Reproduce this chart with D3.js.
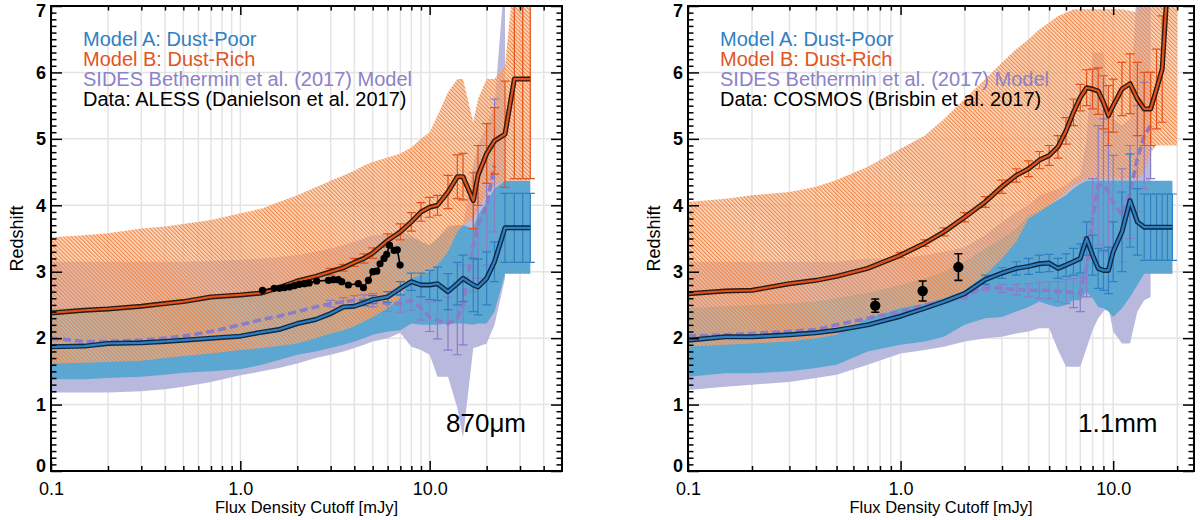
<!DOCTYPE html>
<html lang="en">
<head>
<meta charset="UTF-8">
<title>Median redshift vs flux density cutoff</title>
<script src="https://d3js.org/d3.v7.min.js"></script>
<style>
    body { margin: 0; background: white; }
    svg { display: block; font-family: 'Liberation Sans', Arial, Helvetica, sans-serif; }
</style>
</head>
<body>
<svg id="chart" width="1201" height="520"></svg>
<script>
// ---------- 870um panel (left) ----------
const flux870 = [0.1, 0.15, 0.2, 0.3, 0.4, 0.5, 0.7, 1.0, 1.3, 1.6, 2.0, 2.5, 3.0, 3.5, 4.0, 4.5, 5.0, 6.0, 7.0, 8.0,
                 9.0, 10, 11, 12.5, 14, 15, 17, 18, 20, 22, 25, 28, 31, 34];
const modelA870   = [1.87, 1.88, 1.92, 1.93, 1.95, 1.97, 2.0, 2.03, 2.09, 2.13, 2.22, 2.28, 2.37, 2.47, 2.48, 2.53, 2.58, 2.62, 2.75, 2.85,
                     2.8, 2.8, 2.82, 2.7, 2.82, 2.9, 2.8, 2.77, 2.9, 3.15, 3.66, 3.66, 3.66, 3.66];
const modelA870Lo = [1.38, 1.38, 1.4, 1.42, 1.45, 1.48, 1.5, 1.53, 1.6, 1.67, 1.75, 1.8, 1.85, 1.9, 1.95, 2.0, 2.05, 2.1, 2.12, 2.22,
                     2.2, 2.2, 2.2, 2.22, 2.22, 2.22, 2.2, 2.22, 2.22, 2.4, 2.97, 2.97, 2.97, 2.97];
const modelA870Hi = [2.45, 2.46, 2.48, 2.5, 2.52, 2.55, 2.58, 2.62, 2.68, 2.74, 2.82, 2.9, 2.97, 3.05, 3.12, 3.2, 3.27, 3.35, 3.45, 3.52,
                     3.45, 3.4, 3.5, 3.65, 3.7, 3.7, 3.65, 3.85, 4.05, 4.25, 4.37, 4.37, 4.37, 4.37];
const modelA870Err = [0, 0, 0, 0, 0, 0, 0, 0, 0, 0, 0, 0, 0, 0, 0, 0.04, 0.06, 0.08, 0.1, 0.13,
                      0.18, 0.22, 0.25, 0.27, 0.32, 0.35, 0.4, 0.42, 0.4, 0.3, 0.52, 0.52, 0.52, 0.52];
const modelB870   = [2.38, 2.42, 2.44, 2.48, 2.52, 2.55, 2.62, 2.65, 2.68, 2.76, 2.86, 2.93, 3.0, 3.06, 3.14, 3.2, 3.28, 3.47, 3.6, 3.75,
                     3.9, 3.97, 4.0, 4.2, 4.43, 4.43, 4.07, 4.45, 4.78, 4.97, 5.07, 5.9, 5.9, 5.9];
const modelB870Lo = [1.62, 1.63, 1.64, 1.66, 1.7, 1.73, 1.77, 1.82, 1.85, 1.88, 1.92, 2.0, 2.07, 2.12, 2.18, 2.25, 2.32, 2.45, 2.6, 2.9,
                     2.95, 3.0, 3.1, 3.3, 3.6, 3.7, 3.8, 3.95, 4.15, 4.3, 4.37, 4.37, 4.37, 4.37];
const modelB870Hi = [3.52, 3.55, 3.58, 3.65, 3.68, 3.72, 3.78, 3.88, 3.95, 4.05, 4.15, 4.27, 4.37, 4.45, 4.52, 4.6, 4.65, 4.72, 4.78, 4.87,
                     5.0, 5.1, 5.35, 5.7, 5.9, 5.9, 5.25, 5.6, 5.9, 5.9, 6.1, 7.5, 7.5, 7.5];
const modelB870Err = [0, 0, 0, 0, 0, 0, 0, 0, 0, 0, 0, 0, 0.05, 0.05, 0.06, 0.07, 0.08, 0.1, 0.12, 0.14,
                      0.14, 0.15, 0.15, 0.25, 0.33, 0.35, 0.42, 0.45, 0.45, 0.5, 0.8, 1.5, 1.5, 1.5];
const sides870    = [2.0, 1.95, 1.95, 1.97, 2.0, 2.03, 2.1, 2.2, 2.28, 2.33, 2.4, 2.47, 2.52, 2.55, 2.57, 2.57, 2.57, 2.52, 2.52, 2.57,
                     2.45, 2.32, 2.27, 2.22, 2.3, 2.5, 3.4, 3.7, 4.0, 4.6, null, null, null, null];
const sides870Lo  = [1.18, 1.18, 1.18, 1.2, 1.23, 1.27, 1.34, 1.44, 1.5, 1.55, 1.62, 1.7, 1.75, 1.8, 1.85, 1.9, 1.95, 2.0, 2.08, 1.87,
                     1.82, 1.75, 1.42, 1.42, 0.95, 0.5, 1.85, 1.87, 1.92, 2.2, 2.9, null, null, null];
const sides870Hi  = [3.15, 3.15, 3.15, 3.15, 3.15, 3.15, 3.16, 3.18, 3.2, 3.22, 3.25, 3.3, 3.35, 3.4, 3.45, 3.5, 3.55, 3.55, 3.6, 3.55,
                     3.45, 3.4, 3.5, 3.7, 3.7, 3.7, 4.6, 4.9, 5.2, 5.5, 7.5, null, null, null];
const sides870Err = [0, 0, 0, 0, 0, 0, 0, 0, 0, 0, 0, 0, 0.05, 0.06, 0.07, 0.08, 0.1, 0.12, 0.13, 0.15,
                     0.18, 0.22, 0.28, 0.4, 0.55, 0.6, 0.7, 0.8, 0.9, 1.0, 0, 0, 0, 0];
const alessFlux = [1.31, 1.51, 1.61, 1.71, 1.82, 1.93, 2.05, 2.18, 2.31, 2.53, 2.92, 3.10, 3.29, 3.43, 3.72, 4.20, 4.47, 4.75,
                   5.01, 5.26, 5.47, 5.74, 5.93, 6.13, 6.49, 6.75, 6.98];
const alessZ    = [2.72, 2.75, 2.75, 2.76, 2.77, 2.79, 2.81, 2.82, 2.83, 2.86, 2.87, 2.88, 2.88, 2.85, 2.8, 2.82, 2.76, 2.87,
                   3.0, 3.01, 3.12, 3.2, 3.26, 3.4, 3.32, 3.33, 3.1];

// ---------- 1.1mm panel (right) ----------
const flux1100 = [0.1, 0.15, 0.2, 0.3, 0.4, 0.5, 0.7, 1.0, 1.3, 1.6, 2.0, 2.5, 3.0, 3.5, 4.0, 4.5, 5.0, 5.5, 6.0, 6.5,
                  7.0, 7.5, 8.0, 8.5, 9.0, 9.5, 10, 11, 12, 13, 14, 15, 16, 17, 18, 19, 20];
const modelA1100   = [1.97, 2.02, 2.02, 2.05, 2.08, 2.12, 2.2, 2.33, 2.45, 2.55, 2.67, 2.88, 2.98, 3.05, 3.08, 3.12, 3.13, 3.05, 3.1, 3.15,
                      3.2, 3.5, 3.25, 3.05, 3.02, 3.02, 3.3, 3.6, 4.07, 3.75, 3.67, 3.67, 3.67, 3.67, 3.67, 3.67, null];
const modelA1100Lo = [1.42, 1.47, 1.47, 1.5, 1.55, 1.6, 1.8, 1.9, 1.95, 2.02, 2.2, 2.3, 2.32, 2.4, 2.47, 2.55, 2.5, 2.47, 2.5, 2.57,
                      2.57, 2.7, 2.6, 2.47, 2.45, 2.4, 2.32, 2.45, 2.62, 2.8, 2.97, 2.97, 2.97, 2.97, 2.97, 2.97, null];
const modelA1100Hi = [2.45, 2.48, 2.5, 2.52, 2.55, 2.6, 2.68, 2.8, 2.9, 3.0, 3.15, 3.35, 3.5, 3.65, 3.85, 3.92, 4.0, 4.08, 4.15, 4.25,
                      4.32, 4.37, 4.37, 4.37, 4.37, 4.37, 4.37, 4.37, 4.37, 4.37, 4.37, 4.37, 4.37, 4.37, 4.37, 4.37, null];
const modelA1100Err = [0, 0, 0, 0, 0, 0, 0, 0, 0, 0, 0, 0.07, 0.08, 0.1, 0.12, 0.13, 0.13, 0.15, 0.17, 0.2,
                       0.22, 0.25, 0.3, 0.3, 0.3, 0.35, 0.45, 0.6, 0.7, 0.5, 0.5, 0.5, 0.5, 0.5, 0.5, 0.5, 0];
const modelB1100   = [2.67, 2.71, 2.72, 2.82, 2.87, 2.93, 3.05, 3.25, 3.43, 3.6, 3.82, 4.05, 4.28, 4.45, 4.55, 4.68, 4.75, 4.88, 5.12, 5.4,
                      5.62, 5.77, 5.75, 5.72, 5.55, 5.35, 5.5, 5.75, 5.83, 5.6, 5.45, 5.45, 5.75, 6.05, 7.3, null, null];
const modelB1100Lo = [1.87, 1.9, 1.92, 1.95, 2.0, 2.05, 2.3, 2.45, 2.52, 2.6, 2.72, 2.95, 3.2, 3.45, 3.8, 3.9, 4.0, 4.1, 4.2, 4.3,
                      4.35, 4.4, 4.4, 4.4, 4.4, 4.4, 4.4, 4.4, 4.4, 4.4, 4.5, 4.8, 4.9, 4.9, 4.9, 4.9, 4.9];
const modelB1100Hi = [4.05, 4.1, 4.15, 4.2, 4.28, 4.38, 4.58, 4.85, 5.05, 5.3, 5.6, 5.9, 6.15, 6.35, 6.5, 6.65, 6.75, 6.85, 6.9, 6.95,
                      6.95, 6.95, 6.95, 6.95, 6.95, 6.95, 6.95, 6.95, 6.93, 6.9, 7.5, 7.5, 7.5, 7.5, 7.5, 7.5, 7.5];
const modelB1100Err = [0, 0, 0, 0, 0, 0, 0, 0.04, 0.05, 0.06, 0.07, 0.08, 0.1, 0.1, 0.12, 0.13, 0.15, 0.17, 0.2, 0.2,
                       0.2, 0.27, 0.3, 0.35, 0.4, 0.45, 0.4, 0.4, 0.45, 0.55, 0.55, 0.55, 0.6, 0.8, 0, 0, 0];
const sides1100    = [2.03, 2.05, 2.07, 2.1, 2.13, 2.2, 2.3, 2.4, 2.5, 2.55, 2.63, 2.77, 2.75, 2.73, 2.72, 2.72, 2.72, 2.7, 2.7, 2.68,
                      2.67, 3.07, 3.8, 4.3, 4.3, 4.2, 4.05, 3.85, 4.2, 4.7, 5.05, 5.2, null, null, null, null, null];
const sides1100Lo  = [1.22, 1.27, 1.3, 1.34, 1.4, 1.45, 1.6, 1.77, 1.82, 1.87, 1.95, 2.0, 2.02, 2.07, 2.1, 2.15, 2.15, 1.82, 1.57, 1.57,
                      1.57, 1.85, 2.12, 2.3, 2.4, 2.47, 2.1, 1.92, 1.92, 2.4, 2.57, 2.62, null, null, null, null, null];
const sides1100Hi  = [3.15, 3.15, 3.15, 3.15, 3.15, 3.15, 3.2, 3.2, 3.25, 3.3, 3.37, 3.55, 3.75, 3.9, 4.0, 4.15, 4.2, 4.25, 4.3, 4.4,
                      4.45, 5.0, 6.3, 6.3, 6.3, 5.5, 5.3, 5.2, 5.3, 7.5, 7.5, 7.5, null, null, null, null, null];
const sides1100Err = [0, 0, 0, 0, 0, 0, 0, 0, 0, 0, 0.04, 0.05, 0.06, 0.08, 0.1, 0.12, 0.13, 0.15, 0.18, 0.22,
                      0.27, 0.45, 0.6, 0.9, 1.0, 0.9, 0.7, 0.7, 0.7, 0.8, 0.8, 0.8, 0, 0, 0, 0, 0];
const cosmosFlux = [0.76, 1.27, 1.87];
const cosmosZ    = [2.49, 2.71, 3.07];
const cosmosErr  = [0.1, 0.15, 0.2];

const yMajor = [0, 1, 2, 3, 4, 5, 6, 7];
const legend870  = ["Model A: Dust-Poor", "Model B: Dust-Rich", "SIDES Bethermin et al. (2017) Model", "Data: ALESS (Danielson et al. 2017)"];
const legend1100 = ["Model A: Dust-Poor", "Model B: Dust-Rich", "SIDES Bethermin et al. (2017) Model", "Data: COSMOS (Brisbin et al. 2017)"];

const C = {
    blue: "#2f80c2", blueEdge: "#0d2a45", blueBand: "#5ca6d2",
    orange: "#e2521a", orangeEdge: "#2a1a12",
    purple: "#8a7cc6", lavender: "#b9b9dd",
    grid: "#e4e4e4"
};
const legendColors = [C.blue, "#e1561e", "#8b83c9", "#000"];

const PLOT_TOP = 6, PLOT_BOTTOM = 471;
const svg = d3.select("#chart");
const defs = svg.append("defs");

// fine orange hatch for the Model B range
const hatch = defs.append("pattern")
    .attr("id", "hatch")
    .attr("patternUnits", "userSpaceOnUse")
    .attr("width", 2.8).attr("height", 2.8)
    .attr("patternTransform", "rotate(-45)");
hatch.append("rect").attr("width", 2.8).attr("height", 2.8).attr("fill", "#f9c29a").attr("fill-opacity", 0.55);
hatch.append("rect").attr("width", 1.2).attr("height", 2.8).attr("fill", "#f0823f").attr("fill-opacity", 0.95);

function drawPanel(p) {
    const x = d3.scaleLog().domain([0.1, p.xMax]).range([p.left, p.right]);
    const y = d3.scaleLinear().domain([0, 7]).range([PLOT_BOTTOM, PLOT_TOP]);
    const g = svg.append("g");

    defs.append("clipPath").attr("id", "clip-" + p.id).append("rect")
        .attr("x", p.left).attr("y", PLOT_TOP)
        .attr("width", p.right - p.left).attr("height", PLOT_BOTTOM - PLOT_TOP);

    const xAll = x.ticks().filter(v => v > 0.1 * 1.001 && v < p.xMax * 0.999);
    const xMajor = [0.1, 1, 10];
    const xMinor = xAll.filter(v => !xMajor.some(m => Math.abs(m - v) < 1e-9));

    // grid
    const grid = g.append("g").attr("stroke", C.grid).attr("stroke-width", 1.5);
    grid.selectAll("line.v").data(xAll).join("line").attr("class", "v")
        .attr("x1", d => x(d)).attr("x2", d => x(d)).attr("y1", PLOT_TOP).attr("y2", PLOT_BOTTOM);
    grid.selectAll("line.h").data(yMajor.slice(1, -1)).join("line").attr("class", "h")
        .attr("x1", p.left).attr("x2", p.right).attr("y1", d => y(d)).attr("y2", d => y(d));

    const marks = g.append("g").attr("clip-path", `url(#clip-${p.id})`);
    const fx = (d, i) => x(p.flux[i]);

    const band = (lo, hi) => d3.area()
        .defined((d, i) => lo[i] != null && hi[i] != null)
        .x(fx).y0((d, i) => y(lo[i])).y1((d, i) => y(hi[i]));
    const lineOf = arr => d3.line()
        .defined((d, i) => arr[i] != null)
        .x(fx).y((d, i) => y(arr[i]));

    marks.append("path").datum(p.flux).attr("d", band(p.sLo, p.sHi)).attr("fill", C.lavender);
    marks.append("path").datum(p.flux).attr("d", band(p.aLo, p.aHi)).attr("fill", C.blueBand);
    marks.append("path").datum(p.flux).attr("d", band(p.bLo, p.bHi)).attr("fill", "url(#hatch)");

    function errorBars(mid, err, color, cap) {
        const pts = p.flux.map((f, i) => ({ f, m: mid[i], e: err[i] }))
            .filter(d => d.m != null && d.e > 0);
        marks.append("g").selectAll("path").data(pts).join("path")
            .attr("d", d => {
                const cx = x(d.f), y1 = y(d.m - d.e), y2 = y(d.m + d.e);
                return `M${cx - cap},${y1}H${cx + cap}M${cx},${y1}V${y2}M${cx - cap},${y2}H${cx + cap}`;
            })
            .attr("fill", "none").attr("stroke", color).attr("stroke-width", 1.2);
    }

    // SIDES
    errorBars(p.s, p.sErr, C.purple, 4.5);
    marks.append("path").datum(p.flux).attr("d", lineOf(p.s))
        .attr("fill", "none").attr("stroke", C.purple).attr("stroke-width", 3.6)
        .attr("stroke-dasharray", "8,4");

    // Model A
    errorBars(p.a, p.aErr, C.blue, 4.5);
    marks.append("path").datum(p.flux).attr("d", lineOf(p.a))
        .attr("fill", "none").attr("stroke", C.blueEdge).attr("stroke-width", 5).attr("stroke-linejoin", "round");
    marks.append("path").datum(p.flux).attr("d", lineOf(p.a))
        .attr("fill", "none").attr("stroke", C.blue).attr("stroke-width", 2.2).attr("stroke-linejoin", "round");

    // Model B
    errorBars(p.b, p.bErr, C.orange, 4.5);
    marks.append("path").datum(p.flux).attr("d", lineOf(p.b))
        .attr("fill", "none").attr("stroke", C.orangeEdge).attr("stroke-width", 5).attr("stroke-linejoin", "round");
    marks.append("path").datum(p.flux).attr("d", lineOf(p.b))
        .attr("fill", "none").attr("stroke", C.orange).attr("stroke-width", 2.2).attr("stroke-linejoin", "round");

    // observed data
    if (p.dataErr) {
        const pts = p.dataFlux.map((f, i) => ({ f, z: p.dataZ[i], e: p.dataErr[i] }));
        marks.append("g").selectAll("path").data(pts).join("path")
            .attr("d", d => {
                const cx = x(d.f), y1 = y(d.z - d.e), y2 = y(d.z + d.e);
                return `M${cx - 4},${y1}H${cx + 4}M${cx},${y1}V${y2}M${cx - 4},${y2}H${cx + 4}`;
            })
            .attr("fill", "none").attr("stroke", "#000").attr("stroke-width", 1.6);
        marks.append("g").selectAll("circle").data(pts).join("circle")
            .attr("cx", d => x(d.f)).attr("cy", d => y(d.z)).attr("r", 5.2).attr("fill", "#000");
    } else {
        marks.append("path").datum(p.dataFlux)
            .attr("d", d3.line().x(d => x(d)).y((d, i) => y(p.dataZ[i])))
            .attr("fill", "none").attr("stroke", "#000").attr("stroke-width", 1.6);
        marks.append("g").selectAll("circle").data(p.dataFlux).join("circle")
            .attr("cx", d => x(d)).attr("cy", (d, i) => y(p.dataZ[i])).attr("r", 3.6).attr("fill", "#000");
    }

    // axes
    const yMinor = d3.range(1, 70).filter(i => i % 10 !== 0).map(i => i / 10);
    const fmtX = d3.format(".1f");
    const styleAxis = sel => {
        sel.select(".domain").remove();
        sel.selectAll(".tick line").attr("stroke", "#000").attr("stroke-width", 1.5);
        sel.selectAll(".tick text").attr("fill", "#000").style("font-size", "18px")
            .style("font-family", "'Liberation Sans', Arial, sans-serif");
    };

    g.append("g").attr("transform", `translate(0,${PLOT_BOTTOM})`)
        .call(d3.axisBottom(x).tickValues(xMajor).tickSize(-10).tickPadding(11).tickFormat(fmtX)).call(styleAxis);
    g.append("g").attr("transform", `translate(0,${PLOT_BOTTOM})`)
        .call(d3.axisBottom(x).tickValues(xMinor).tickSize(-5).tickFormat("")).call(styleAxis);
    g.append("g").attr("transform", `translate(0,${PLOT_TOP})`)
        .call(d3.axisTop(x).tickValues(xMajor).tickSize(-9).tickFormat("")).call(styleAxis);
    g.append("g").attr("transform", `translate(0,${PLOT_TOP})`)
        .call(d3.axisTop(x).tickValues(xMinor).tickSize(-4.5).tickFormat("")).call(styleAxis);

    const left = g.append("g").attr("transform", `translate(${p.left},0)`)
        .call(d3.axisLeft(y).tickValues(yMajor).tickSize(-11).tickPadding(5).tickFormat(d3.format("d")))
        .call(styleAxis);
    left.selectAll(".tick text").style("font-weight", "bold")
        .attr("dy", d => d === 7 ? "0.6em" : d === 0 ? "0.05em" : "0.32em");
    g.append("g").attr("transform", `translate(${p.left},0)`)
        .call(d3.axisLeft(y).tickValues(yMinor).tickSize(-5.5).tickFormat("")).call(styleAxis);
    g.append("g").attr("transform", `translate(${p.right},0)`)
        .call(d3.axisRight(y).tickValues(yMajor).tickSize(-11).tickFormat("")).call(styleAxis);
    g.append("g").attr("transform", `translate(${p.right},0)`)
        .call(d3.axisRight(y).tickValues(yMinor).tickSize(-5.5).tickFormat("")).call(styleAxis);

    g.append("rect").attr("x", p.left).attr("y", PLOT_TOP)
        .attr("width", p.right - p.left).attr("height", PLOT_BOTTOM - PLOT_TOP)
        .attr("fill", "none").attr("stroke", "#000").attr("stroke-width", 2);

    // titles
    g.append("text").attr("x", (p.left + p.right) / 2).attr("y", 513)
        .attr("text-anchor", "middle").style("font-size", "16.5px").text("Flux Density Cutoff [mJy]");
    g.append("text").attr("transform", `translate(${p.left - 28},${(PLOT_TOP + PLOT_BOTTOM) / 2}) rotate(-90)`)
        .attr("text-anchor", "middle").style("font-size", "18px").text("Redshift");

    // legend
    g.append("g").selectAll("text").data(p.legend).join("text")
        .attr("x", p.left + 32).attr("y", (d, i) => 46 + i * 20)
        .attr("fill", (d, i) => legendColors[i])
        .style("font-size", "20px").text(d => d);

    g.append("text").attr("x", p.bandX).attr("y", 432)
        .style("font-size", "26px").text(p.band);
}

drawPanel({
    id: "870", left: 51, right: 562, xMax: 50, band: "870μm", bandX: 446,
    flux: flux870,
    a: modelA870, aLo: modelA870Lo, aHi: modelA870Hi, aErr: modelA870Err,
    b: modelB870, bLo: modelB870Lo, bHi: modelB870Hi, bErr: modelB870Err,
    s: sides870, sLo: sides870Lo, sHi: sides870Hi, sErr: sides870Err,
    dataFlux: alessFlux, dataZ: alessZ, dataErr: null,
    legend: legend870
});
drawPanel({
    id: "1100", left: 688, right: 1194, xMax: 24, band: "1.1mm", bandX: 1078,
    flux: flux1100,
    a: modelA1100, aLo: modelA1100Lo, aHi: modelA1100Hi, aErr: modelA1100Err,
    b: modelB1100, bLo: modelB1100Lo, bHi: modelB1100Hi, bErr: modelB1100Err,
    s: sides1100, sLo: sides1100Lo, sHi: sides1100Hi, sErr: sides1100Err,
    dataFlux: cosmosFlux, dataZ: cosmosZ, dataErr: cosmosErr,
    legend: legend1100
});
</script>
</body>
</html>
